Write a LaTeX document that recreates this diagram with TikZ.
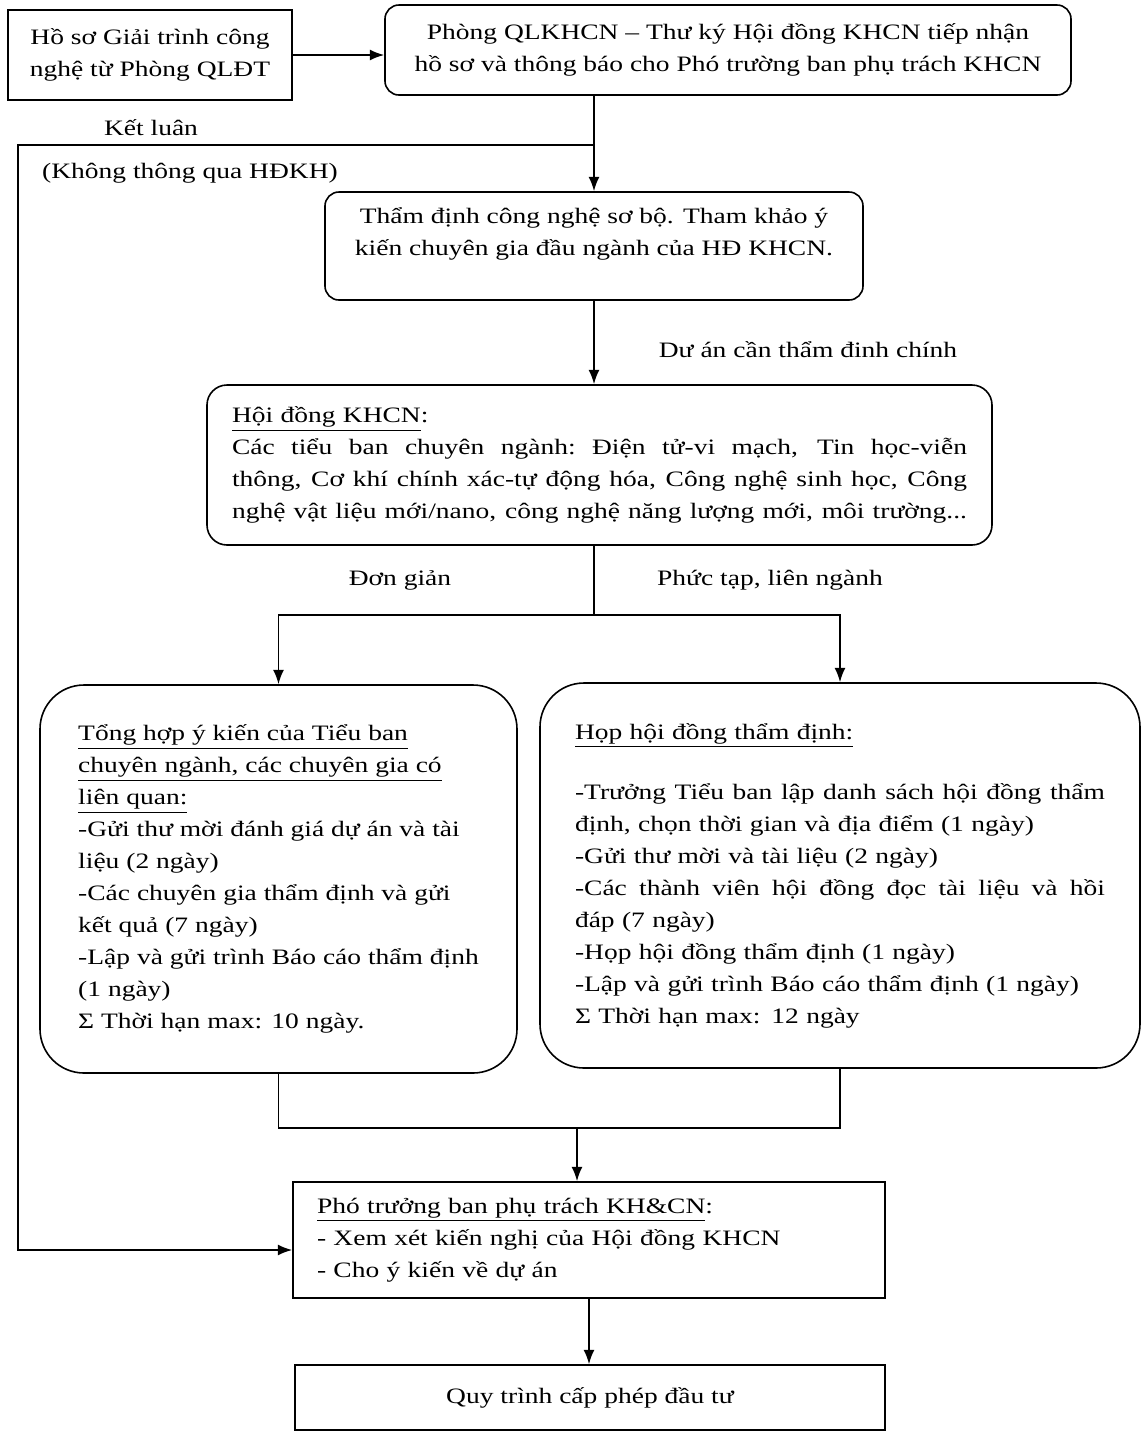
\documentclass[tikz,border=0pt]{standalone}
\usepackage{fontspec}
\setmainfont{Liberation Serif}[FakeStretch=1.25]
\usetikzlibrary{arrows.meta}
\newcommand{\jl}[1]{\noindent\hbox to \hsize{\spaceskip=.25em plus 1fil
  \xspaceskip=\spaceskip #1}}

\begin{document}
\begin{tikzpicture}[x=0.5pt,y=-0.5pt,line width=0.8pt,
      ar/.style={-{Latex[length=2.5mm,width=1.9mm]}},
      bx/.style={draw,inner sep=0pt,font=\fontsize{11}{16}\selectfont},
      rb/.style={bx,rounded corners=7pt},
      lb/.style={inner sep=0pt,font=\fontsize{11}{16}\selectfont}]
    \useasboundingbox (0,0) rectangle (1144,1432);

    % ================= top row =================
    \node[bx,minimum width=142pt,minimum height=45pt,align=center] (hs) at (150,55)
      {Hồ sơ Giải trình công\\nghệ từ Phòng QLĐT};
    \node[rb,minimum width=343pt,minimum height=45pt,align=center] (pq) at (728,50)
      {Phòng QLKHCN – Thư ký Hội đồng KHCN tiếp nhận\\
       hồ sơ và thông báo cho Phó trường ban phụ trách KHCN};
    \draw[ar] (hs.east) -- (hs.east -| pq.west);

    % ================= preliminary check =================
    \node[rb,minimum width=269pt,minimum height=54pt,align=center] (td) at (594,246)
      {Thẩm định công nghệ sơ bộ. Tham khảo ý\\
       kiến chuyên gia đầu ngành của HĐ KHCN.\\[-2pt]\mbox{}};
    \draw[ar] (pq.south -| td.north) -- (td.north);

    \coordinate (j1) at (594,145);
    \coordinate (kc) at (18,145);
    \node[lb] (kl) at (151,128) {Kết luân};
    \node[lb] (kt) at (190,173) {(Không thông qua HĐKH)};

    % ================= council =================
    \node[bx,rounded corners=10pt,minimum width=392.5pt,minimum height=80pt,
          text width=367.5pt,align=left] (hd) at (599.5,465)
      {\underline{Hội đồng KHCN}:\\
       \jl{Các tiểu ban chuyên ngành: Điện tử-vi mạch, Tin học-viễn}\\
       \jl{thông, Cơ khí chính xác-tự động hóa, Công nghệ sinh học, Công}\\
       \jl{nghệ vật liệu mới/nano, công nghệ năng lượng mới, môi trường...}};
    \draw[ar] (td.south) -- (td.south |- hd.north);
    \node[lb] (dc) at (808,350) {Dư án cần thẩm đinh chính};

    % ================= two branches =================
    \coordinate (sp) at (594,615);
    \node[lb] (dg) at (400,580) {Đơn giản};
    \node[lb] (pt) at (770,580) {Phức tạp, liên ngành};

    \node[bx,rounded corners=22pt,minimum width=238.5pt,minimum height=194pt,
          align=left] (th) at (278.5,879)
      {\underline{Tổng hợp ý kiến của Tiểu ban}\\
       \underline{chuyên ngành, các chuyên gia có}\\
       \underline{liên quan:}\\
       -Gửi thư mời đánh giá dự án và tài\\
       liệu (2 ngày)\\
       -Các chuyên gia thẩm định và gửi\\
       kết quả (7 ngày)\\
       -Lập và gửi trình Báo cáo thẩm định\\
       (1 ngày)\\
       Σ Thời hạn max: 10 ngày.};

    \node[bx,rounded corners=22pt,minimum width=300pt,minimum height=192.5pt,
          text width=265pt,align=left] (hp) at (840,875.5)
      {\underline{Họp hội đồng thẩm định:}\\[14pt]
       \jl{-Trưởng Tiểu ban lập danh sách hội đồng thẩm}\\
       định, chọn thời gian và địa điểm (1 ngày)\\
       -Gửi thư mời và tài liệu (2 ngày)\\
       \jl{-Các thành viên hội đồng đọc tài liệu và hồi}\\
       đáp (7 ngày)\\
       -Họp hội đồng thẩm định (1 ngày)\\
       -Lập và gửi trình Báo cáo thẩm định (1 ngày)\\
       Σ Thời hạn max: 12 ngày};

    \draw (hd.south -| sp) -- (sp);
    \draw[ar] (sp) -| (th.north);
    \draw[ar] (sp) -| (hp.north);

    % ================= bottom =================
    \node[bx,minimum width=296pt,minimum height=58pt,text width=272pt,
          align=left] (ph) at (589,1240)
      {\underline{Phó trưởng ban phụ trách KH\&CN}:\\
       - Xem xét kiến nghị của Hội đồng KHCN\\
       - Cho ý kiến về dự án};
    \node[bx,minimum width=295pt,minimum height=32.5pt] (qt) at (590,1397.5)
      {Quy trình cấp phép đầu tư};

    \coordinate (mg) at (577,1128);
    \draw (th.south) |- (mg) -| (hp.south);
    \draw[ar] (mg) -- (mg |- ph.north);
    \draw[ar] (ph.south) -- (ph.south |- qt.north);

    % conclusion without council
    \draw[ar] (j1) -- (kc) |- ([yshift=-5pt]ph.west);
  \end{tikzpicture}
\end{document}
